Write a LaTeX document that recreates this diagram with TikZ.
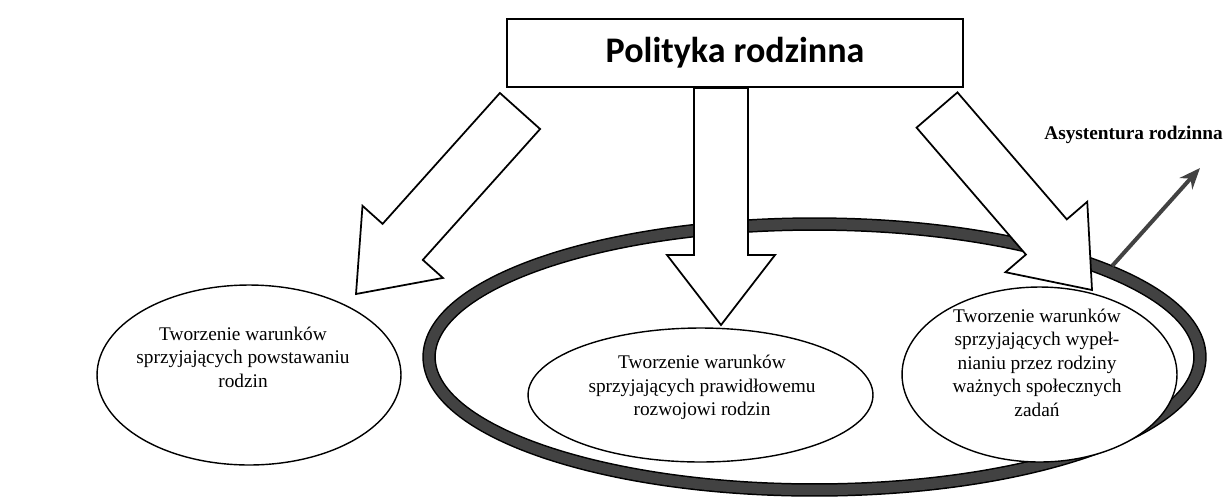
\documentclass[tikz,border=0pt]{standalone}
\usepackage{fontspec}
\setmainfont{Liberation Serif}
\newfontfamily\titlefont{Carlito}
\usetikzlibrary{calc,arrows.meta,shapes.geometric}
\definecolor{ringgray}{RGB}{66,66,66}
\newcommand{\blockarrow}[3]{%
  \coordinate (#1-h) at ($(#3)!1.4cm!(#2)$);
  \draw[blockarr]
    ($(#2)!0.54cm!90:(#3)$) -- ($(#1-h)!0.54cm!90:(#3)$) --
    ($(#1-h)!1.08cm!90:(#3)$) -- (#3) --
    ($(#1-h)!1.08cm!-90:(#3)$) -- ($(#1-h)!0.54cm!-90:(#3)$) --
    ($(#2)!0.54cm!-90:(#3)$) -- cycle;
}
\begin{document}
\begin{tikzpicture}[x=0.02cm, y=-0.02cm,
  oval/.style={draw, ellipse, fill=white, line width=0.8pt, inner sep=0pt},
  ovaltext/.style={align=center, font=\fontsize{11}{13.4}\selectfont},
  blockarr/.style={draw, fill=white, line width=1pt, line join=miter}]
  \useasboundingbox (0,0) rectangle (1226,498);

  \node[draw, ellipse, minimum width=15.42cm, minimum height=5.32cm,
    line width=0.03cm, double=ringgray, double distance=0.21cm,
    outer sep=0.135cm] (ring) at (814.5,357) {};

  \node[oval, minimum width=6.08cm, minimum height=3.6cm] (powst) at (249,375) {};
  \node[ovaltext] (powst-text) at (243,357)
    {Tworzenie warunków\\sprzyjających powstawaniu\\rodzin};
  \node[oval, minimum width=6.9cm, minimum height=2.68cm] (rozw) at (700.5,395) {};
  \node[ovaltext] (rozw-text) at (702,387.5)
    {Tworzenie warunków\\sprzyjających prawidłowemu\\rozwojowi rodzin};
  \node[oval, minimum width=5.5cm, minimum height=3.5cm] (zad) at (1039.5,374.5) {};
  \node[ovaltext] (zad-text) at (1037,362.5)
    {Tworzenie warunków\\sprzyjających wypeł-\\nianiu przez rodziny\\ważnych społecznych\\zadań};

  \node[draw, line width=1.1pt, minimum width=9.12cm, minimum height=1.36cm,
    font=\titlefont\bfseries\fontsize{20.5}{24}\selectfont] (polityka) at (735,53)
    {Polityka rodzinna};

  % block arrows
  \coordinate (lewy-ogon) at (520,111);
  \coordinate (lewy-grot) at (356,294);
  \blockarrow{lewy}{lewy-ogon}{lewy-grot}
  \coordinate (srodek-ogon) at ($(polityka.south)+(-14,0)$);
  \coordinate (srodek-grot) at (721,325);
  \blockarrow{srodek}{srodek-ogon}{srodek-grot}
  \coordinate (prawy-ogon) at (937,110);
  \coordinate (prawy-grot) at (1092,290);
  \blockarrow{prawy}{prawy-ogon}{prawy-grot}

  \node[font=\bfseries\fontsize{11}{13}\selectfont] (asyst) at (1133.5,135)
    {Asystentura rodzinna};
  \coordinate (asyst-grot) at (1200,168);
  \draw[line width=0.08cm, ringgray, -{Stealth[length=0.42cm, width=0.34cm]}]
    (ring.17) -- (asyst-grot);
\end{tikzpicture}
\end{document}
